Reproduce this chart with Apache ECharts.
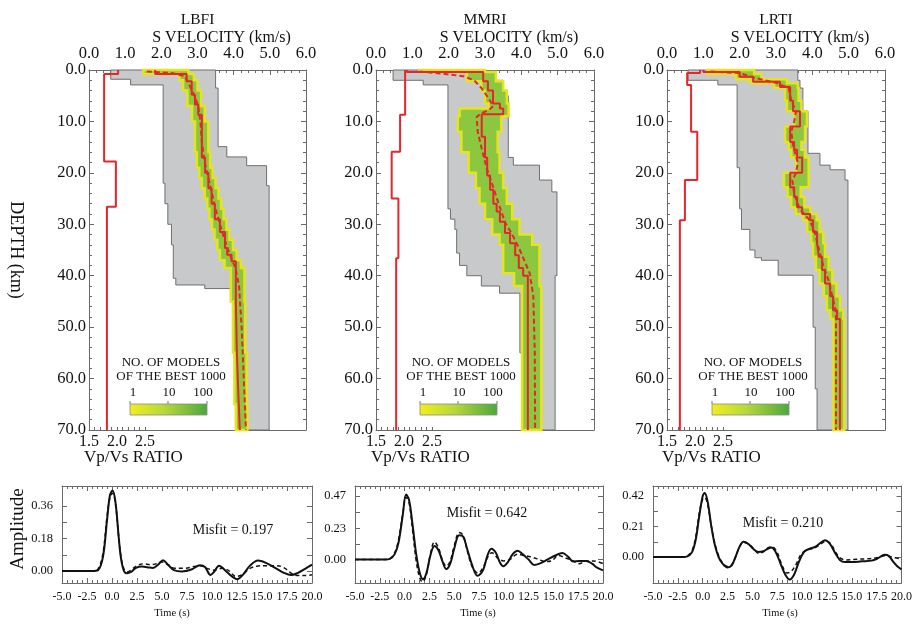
<!DOCTYPE html>
<html>
<head>
<meta charset="utf-8">
<script src="https://cdn.jsdelivr.net/npm/echarts@6/dist/echarts.min.js"></script>
<style>
html, body { margin: 0; background: #fff; }
#main { width: 915px; height: 626px; }
</style>
</head>
<body>
<div id="main"></div>
<script>
// ---- data -------------------------------------------------------------
var stations = ['LBFI', 'MMRI', 'LRTI'];
var misfits = ['0.197', '0.642', '0.210'];
var ratioLabels = [1.5, 2.0, 2.5];
var ratioTicks = [1.5, 1.6, 1.7, 1.8, 1.9, 2.0, 2.1, 2.2, 2.3, 2.4, 2.5];
var ampLabels = [[0, 0.18, 0.36], [0, 0.23, 0.47], [0, 0.21, 0.42]];
var ampTicks = [[0, 0.09, 0.18, 0.27, 0.36], [0, 0.115, 0.23, 0.35, 0.47], [0, 0.105, 0.21, 0.315, 0.42]];
var ampRange = [[-0.066, 0.47], [-0.173, 0.543], [-0.179, 0.489]];
var colorbarLabels = ['1', '10', '100'];

// layers: [top depth km, S velocity km/s]
var lbfiBest = [[0,1.83],[0.8,2.7],[2.2,2.84],[4.8,2.93],[6.7,3.02],[8.7,3.12],[17,3.21],[20,3.3],[23,3.39],[26,3.48],[29,3.62],[31.5,3.76],[34.6,3.82],[35.9,3.94],[37.2,4.06],[45,4.09],[55,4.13],[63,4.17]];
var mmriBest = [[0,0.85],[0.4,2.95],[2.2,3.08],[4,3.22],[6.5,3.41],[7.5,3.5],[8.6,2.91],[13,3.0],[17,3.06],[20.5,3.14],[23.3,3.23],[26,3.32],[27.5,3.41],[29.5,3.55],[31.7,3.69],[33.7,3.83],[36,3.93],[38.5,4.05],[40,4.18]];
var lrtiBest = [[0,1.0],[0.4,2.0],[1.3,2.37],[2.3,3.11],[3.3,3.39],[6,3.47],[8,3.66],[11,3.39],[14,3.5],[15.5,3.58],[17,3.72],[20,3.39],[22.8,3.5],[24.7,3.58],[26.7,3.72],[28,3.94],[29.2,4.02],[31.5,4.13],[33.7,4.18],[36.3,4.27],[38.9,4.35],[41.5,4.49],[44,4.57],[46.7,4.68],[48.4,4.76]];

// mean model points: [S velocity, depth]
var lbfiMean = [[1.6,0.3],[2.3,0.6],[2.65,1.2],[2.78,3],[2.92,5],[3.02,7],[3.08,10],[3.12,14],[3.2,18],[3.3,21],[3.4,24],[3.5,27],[3.62,30],[3.75,33],[3.9,36],[4.05,38.5],[4.15,42],[4.22,50],[4.28,60],[4.34,70]];
var mmriMean = [[1.2,0.3],[1.8,0.7],[2.4,1.2],[2.7,2],[2.9,3.5],[3.05,5],[3.23,7],[3.1,7.8],[2.91,8.4],[2.77,9.1],[2.8,12],[2.91,15.3],[3.05,19.2],[3.18,21.8],[3.36,25.7],[3.55,29.6],[3.75,32],[3.96,35],[4.23,39.5],[4.33,44],[4.37,55],[4.38,70]];
var lrtiMean = [[1.2,0.3],[2.0,0.6],[2.4,1.5],[3.0,2.5],[3.35,3.5],[3.42,6],[3.55,8],[3.5,10],[3.42,12],[3.48,15],[3.6,18],[3.55,20],[3.45,21.5],[3.5,24],[3.65,27],[3.9,29],[4.05,31],[4.15,34],[4.3,38],[4.45,41],[4.55,44],[4.65,47],[4.65,70]];

// best-1000 band layers: [top depth, low velocity, high velocity]
var lbfiBand = [[0,1.5,2.75],[0.8,2.5,2.9],[2,2.6,3.0],[4,2.72,3.1],[7,2.85,3.2],[10,2.93,3.3],[16,2.98,3.35],[19,3.05,3.42],[21,3.12,3.5],[23,3.2,3.58],[25,3.27,3.65],[27,3.33,3.72],[29,3.4,3.8],[31,3.47,3.88],[33,3.55,3.98],[35,3.62,4.08],[37,3.75,4.2],[38.5,3.92,4.3],[45,3.98,4.32],[55,4.02,4.36],[65,4.06,4.38]];
var mmriBand = [[0,1.2,3.0],[0.4,2.5,3.3],[2.2,2.9,3.5],[4,3.0,3.6],[6.5,3.1,3.65],[7.5,2.3,3.65],[9,2.25,3.45],[12,2.35,3.35],[16,2.55,3.4],[20,2.75,3.5],[23,2.85,3.6],[26,3.0,3.75],[29,3.2,3.95],[32,3.4,4.3],[34,3.5,4.5],[39.5,3.8,4.5],[42,4.02,4.55]];
var lrtiBand = [[0,1.1,2.4],[0.8,1.9,2.6],[1.8,2.3,3.3],[2.6,2.95,3.6],[3.5,3.25,3.62],[6,3.3,3.7],[8,3.5,3.85],[11,3.25,3.8],[14,3.35,3.7],[15.5,3.42,3.8],[17,3.55,3.9],[20,3.22,3.9],[22.8,3.32,3.68],[24.7,3.42,3.78],[26.7,3.55,3.95],[28,3.75,4.12],[29.2,3.86,4.2],[31.5,3.97,4.3],[33.7,4.02,4.35],[36.3,4.1,4.45],[38.9,4.2,4.55],[41.5,4.32,4.66],[44,4.4,4.76],[46.7,4.5,4.85],[48.4,4.58,4.88]];

// envelope of all models: [top depth, velocity]
var lbfiMin = [[0,0.6],[1.8,1.15],[2.9,2.05],[22,2.1],[26,2.18],[30,2.28],[34,2.33],[40.5,2.4],[41.8,3.2],[42.5,3.99],[52,4.05],[62,4.1],[67,4.15]];
var lbfiMax = [[0,3.5],[3.5,3.57],[14.9,3.81],[16.9,4.36],[18.6,4.91],[22.5,4.98]];
var mmriMin = [[0,0.47],[2,1.3],[2.9,1.98],[27,2.05],[29,2.17],[31,2.22],[35.6,2.3],[38,2.5],[40,2.9],[42,3.4],[43.4,3.96],[55,4.05],[65,4.12]];
var mmriMax = [[0,3.0],[2,3.5],[5,3.64],[17,3.78],[18.5,4.5],[21.4,4.84],[23.7,4.98],[40,4.93]];
var lrtiMin = [[0,0.58],[2,1.4],[2.9,1.93],[19,2.0],[27,2.05],[31,2.28],[35,2.42],[36.5,2.6],[37,3.06],[39.9,4.02],[50,4.08],[62,4.13]];
var lrtiMax = [[0,3.6],[2,3.66],[3.5,3.74],[8,3.88],[16.2,4.21],[18.5,4.49],[19.4,4.9],[21.4,4.98]];

// Vp/Vs layers: [top depth, ratio]
var lbfiRatio = [[0,2.02],[0.8,1.77],[17.8,1.98],[26.6,1.82]];
var mmriRatio = [[0,2.02],[8.7,1.93],[15.9,1.78],[25,1.9],[36.6,1.86]];
var lrtiRatio = [[0,2.09],[0.6,1.86],[2.9,1.93],[12,2.04],[21.4,1.82],[29.2,1.73]];

// receiver functions: [time s, amplitude]
var lbfiObs = [[-5,0],[-2,0],[-1.4,0.005],[-0.9,0.08],[-0.5,0.28],[-0.2,0.42],[0.05,0.445],[0.35,0.38],[0.65,0.2],[0.9,0.07],[1.2,0.0],[1.5,-0.012],[1.9,-0.005],[2.4,0.018],[3.0,0.025],[3.6,0.02],[4.1,0.017],[4.6,0.035],[5.1,0.06],[5.6,0.035],[6.2,0.005],[7.0,-0.002],[8.0,0.01],[8.8,0.032],[9.3,0.022],[9.85,-0.022],[10.2,-0.005],[10.7,0.03],[11.3,0.005],[12.0,-0.03],[12.5,-0.045],[13.1,-0.02],[13.8,0.03],[14.6,0.058],[15.4,0.045],[16.4,0.015],[17.2,-0.01],[17.9,-0.022],[18.6,-0.01],[19.3,0.012],[20,0.035]];
var lbfiSyn = [[-5,0],[-2,0],[-1.4,0.01],[-0.9,0.1],[-0.5,0.3],[-0.2,0.41],[0.05,0.43],[0.35,0.37],[0.65,0.2],[0.9,0.08],[1.2,0.01],[1.5,-0.005],[2.0,0.01],[2.5,0.03],[3.2,0.04],[3.8,0.035],[4.4,0.04],[5.0,0.05],[5.6,0.035],[6.3,0.015],[7.2,0.015],[8.2,0.025],[8.8,0.03],[9.5,0.015],[10.2,0.005],[11.0,0.015],[11.6,0.005],[12.4,-0.03],[13.0,-0.02],[13.8,0.015],[14.6,0.028],[15.5,0.03],[16.5,0.03],[17.3,0.015],[18.0,-0.015],[18.6,-0.025],[19.3,-0.025],[20,-0.02]];
var mmriObs = [[-5,0],[-2,0],[-1.5,0.005],[-1.0,0.04],[-0.6,0.13],[-0.2,0.32],[0.15,0.48],[0.45,0.44],[0.8,0.26],[1.15,0.05],[1.5,-0.09],[1.85,-0.145],[2.2,-0.1],[2.6,0.03],[3.0,0.1],[3.4,0.07],[3.8,-0.01],[4.2,-0.07],[4.6,-0.03],[5.0,0.08],[5.5,0.18],[5.9,0.17],[6.3,0.08],[6.8,-0.04],[7.35,-0.12],[7.9,-0.08],[8.35,0.03],[8.75,0.08],[9.2,0.05],[9.6,-0.02],[9.95,-0.05],[10.4,-0.02],[10.9,0.04],[11.4,0.065],[11.9,0.04],[12.5,0.0],[13.05,-0.04],[13.6,-0.03],[14.4,0.0],[15.2,0.03],[15.9,0.048],[16.5,0.02],[17.0,-0.015],[17.6,-0.01],[18.3,-0.01],[18.9,-0.03],[19.4,-0.06],[20,-0.08]];
var mmriSyn = [[-5,0],[-2,0],[-1.5,0.005],[-1.0,0.05],[-0.6,0.15],[-0.2,0.33],[0.15,0.46],[0.45,0.42],[0.8,0.22],[1.15,0.0],[1.5,-0.13],[1.8,-0.165],[2.2,-0.11],[2.6,0.04],[3.0,0.13],[3.4,0.09],[3.8,0.0],[4.2,-0.05],[4.6,-0.01],[5.0,0.1],[5.5,0.2],[5.9,0.18],[6.3,0.07],[6.8,-0.05],[7.4,-0.1],[7.9,-0.06],[8.4,0.02],[8.8,0.05],[9.4,0.01],[10.0,-0.01],[10.6,0.0],[11.4,0.04],[12.0,0.03],[12.7,0.02],[13.4,0.005],[14.2,-0.015],[14.8,-0.01],[15.5,0.03],[16.3,0.01],[17.0,-0.01],[17.6,-0.03],[18.3,-0.01],[19.0,-0.01],[20,-0.03]];
var lrtiObs = [[-5,0],[-2,0],[-1.6,0.003],[-1.1,0.03],[-0.7,0.12],[-0.35,0.28],[0.0,0.42],[0.2,0.44],[0.5,0.38],[0.85,0.22],[1.2,0.09],[1.6,0.0],[2.0,-0.045],[2.5,-0.072],[2.9,-0.06],[3.3,0.0],[3.7,0.07],[4.1,0.105],[4.6,0.09],[5.1,0.055],[5.6,0.035],[6.1,0.04],[6.5,0.055],[6.9,0.066],[7.3,0.04],[7.8,-0.04],[8.3,-0.12],[8.75,-0.155],[9.2,-0.12],[9.7,-0.03],[10.2,0.035],[10.7,0.055],[11.3,0.07],[11.9,0.1],[12.3,0.115],[12.8,0.09],[13.3,0.03],[13.8,-0.02],[14.3,-0.035],[15.0,-0.035],[16.0,-0.03],[17.0,-0.025],[17.6,-0.01],[18.3,0.015],[18.7,0.008],[19.2,-0.035],[19.6,-0.065],[20,-0.085]];
var lrtiSyn = [[-5,0],[-2,0],[-1.6,0.005],[-1.1,0.04],[-0.7,0.14],[-0.35,0.3],[0.0,0.4],[0.2,0.41],[0.5,0.36],[0.85,0.22],[1.2,0.1],[1.6,0.01],[2.0,-0.04],[2.5,-0.065],[2.9,-0.055],[3.3,0.0],[3.7,0.07],[4.1,0.1],[4.6,0.09],[5.1,0.06],[5.6,0.025],[6.1,0.035],[6.6,0.065],[7.0,0.07],[7.5,0.03],[8.0,-0.06],[8.5,-0.11],[8.9,-0.1],[9.4,-0.05],[9.9,0.02],[10.5,0.05],[11.2,0.06],[11.9,0.09],[12.4,0.11],[12.9,0.09],[13.4,0.03],[13.9,-0.01],[14.5,-0.02],[15.5,-0.015],[16.5,-0.012],[17.5,-0.005],[18.3,0.008],[19.0,0.0],[20,-0.015]];

var bestModels = [lbfiBest, mmriBest, lrtiBest];
var meanModels = [lbfiMean, mmriMean, lrtiMean];
var bands = [lbfiBand, mmriBand, lrtiBand];
var minEnv = [lbfiMin, mmriMin, lrtiMin];
var maxEnv = [lbfiMax, mmriMax, lrtiMax];
var ratios = [lbfiRatio, mmriRatio, lrtiRatio];
var observed = [lbfiObs, mmriObs, lrtiObs];
var synthetic = [lbfiSyn, mmriSyn, lrtiSyn];

// ---- layout -----------------------------------------------------------
var FONT = 'Liberation Serif';
var RED = '#e5262d';
var AXIS = '#6a6a6a';
var topLeft = [89, 376, 667];
var topWidth = [217, 218, 218];
var botLeft = [62, 355, 653];
var botWidth = [250, 248, 250];
var barLeft = [130, 420, 712];
var misfitPos = [[233, 530], [487, 513], [783, 523]];
var timeTitleX = [172, 478, 780];

// layer list -> step line points [value, depth]
function steps(layers, col) {
  var pts = [];
  for (var i = 0; i < layers.length; i++) {
    var bottom = i + 1 < layers.length ? layers[i + 1][0] : 70;
    pts.push([layers[i][col], layers[i][0]]);
    pts.push([layers[i][col], bottom]);
  }
  return pts;
}

function polygonSeries(xi, yi, pts, style, z) {
  return {
    type: 'custom', xAxisIndex: xi, yAxisIndex: yi, silent: true, z: z,
    data: [[0, 0]],
    renderItem: function (params, api) {
      return { type: 'polygon', shape: { points: pts.map(function (p) { return api.coord(p); }) }, style: style };
    }
  };
}

function lbl(size) {
  return { fontFamily: FONT, fontSize: size, color: '#111' };
}

function txt(x, y, text, size, align, rot) {
  return {
    type: 'text', x: x, y: y, rotation: rot || 0,
    style: { text: text, font: size + 'px "' + FONT + '"', fill: '#111', align: align, textAlign: align, verticalAlign: 'middle', textVerticalAlign: 'middle' }
  };
}

var option = { animation: false, backgroundColor: '#fff', grid: [], xAxis: [], yAxis: [], series: [], graphic: [] };

var lineStyle = { show: true, onZero: false, lineStyle: { color: AXIS } };
var tickStyle = { show: true, inside: true, length: 5, lineStyle: { color: AXIS } };
var minorStyle = { show: true, splitNumber: 5, length: 3, lineStyle: { color: AXIS } };

// velocity-depth panels
for (var i = 0; i < 3; i++) {
  option.grid.push({ left: topLeft[i], top: 70, width: topWidth[i], height: 360 });
  var vmaxRatio = 1.5 + topWidth[i] / 56;
  option.xAxis.push({
    gridIndex: i, type: 'value', position: 'top', min: 0, max: 6, interval: 1,
    axisLine: lineStyle, axisTick: tickStyle, minorTick: minorStyle,
    splitLine: { show: false }, minorSplitLine: { show: false },
    axisLabel: Object.assign(lbl(16.5), { margin: 8, showMinLabel: true, showMaxLabel: true, formatter: function (v) { return v.toFixed(1); } })
  });
  option.xAxis.push({
    gridIndex: i, type: 'value', position: 'bottom', min: 1.5, max: vmaxRatio,
    axisLine: lineStyle,
    axisTick: { show: true, inside: true, length: 3, customValues: ratioTicks, lineStyle: { color: AXIS } },
    splitLine: { show: false },
    axisLabel: Object.assign(lbl(16), { margin: 4, customValues: ratioLabels, formatter: function (v) { return v.toFixed(1); } })
  });
  option.yAxis.push({
    gridIndex: i, type: 'value', position: 'left', inverse: true, min: 0, max: 70, interval: 10,
    axisLine: lineStyle, axisTick: tickStyle, minorTick: minorStyle,
    splitLine: { show: false }, minorSplitLine: { show: false },
    axisLabel: Object.assign(lbl(16.5), { margin: 3, showMinLabel: true, showMaxLabel: true, formatter: function (v) { return v.toFixed(1); } })
  });
  option.yAxis.push({
    gridIndex: i, type: 'value', position: 'right', inverse: true, min: 0, max: 70, interval: 10,
    axisLine: lineStyle, axisTick: tickStyle, minorTick: minorStyle,
    splitLine: { show: false }, axisLabel: { show: false }
  });

  var envelope = steps(maxEnv[i], 1).concat(steps(minEnv[i], 1).reverse());
  option.series.push(polygonSeries(2 * i, 2 * i, envelope, { fill: '#c8c9cb', stroke: '#6f6f6f', lineWidth: 1 }, 1));
  var band = steps(bands[i], 2).concat(steps(bands[i], 1).reverse());
  option.series.push(polygonSeries(2 * i, 2 * i, band, { fill: '#8dc73f', stroke: '#e6e41e', lineWidth: 2.5 }, 2));
  option.series.push({
    type: 'line', xAxisIndex: 2 * i, yAxisIndex: 2 * i, data: meanModels[i], symbol: 'none', silent: true, z: 3,
    lineStyle: { color: RED, width: 2, type: [5, 3] }
  });
  option.series.push({
    type: 'line', xAxisIndex: 2 * i, yAxisIndex: 2 * i, data: steps(bestModels[i], 1), symbol: 'none', silent: true, z: 4,
    lineStyle: { color: RED, width: 2 }
  });
  option.series.push({
    type: 'line', xAxisIndex: 2 * i + 1, yAxisIndex: 2 * i, data: steps(ratios[i], 1), symbol: 'none', silent: true, z: 4,
    lineStyle: { color: RED, width: 2 }
  });

  var cx = topLeft[i] + topWidth[i] / 2;
  option.graphic.push(txt(cx, 20, stations[i], 15.5, 'center'));
  option.graphic.push(txt(cx + 24, 38, 'S VELOCITY (km/s)', 16, 'center'));
  option.graphic.push(txt(topLeft[i] - 5, 458, 'Vp/Vs RATIO', 17, 'left'));

  // colour bar legend
  var bx = barLeft[i];
  option.graphic.push(txt(bx + 41, 363, 'NO. OF MODELS', 13, 'center'));
  option.graphic.push(txt(bx + 41, 377, 'OF THE BEST 1000', 13, 'center'));
  var offs = [3, 39, 73];
  var tickX = [0, 38, 77];
  for (var k = 0; k < 3; k++) {
    option.graphic.push(txt(bx + offs[k], 393, colorbarLabels[k], 13, 'center'));
    option.graphic.push({ type: 'line', shape: { x1: bx + tickX[k], y1: 401, x2: bx + tickX[k], y2: 404 }, style: { stroke: '#777', lineWidth: 1 } });
  }
  option.graphic.push({
    type: 'rect', shape: { x: bx, y: 404, width: 77, height: 11 },
    style: {
      fill: { type: 'linear', x: 0, y: 0, x2: 1, y2: 0, colorStops: [{ offset: 0, color: '#f2ee1c' }, { offset: 0.45, color: '#b6d83a' }, { offset: 1, color: '#4aa83c' }] },
      stroke: '#8a8a8a', lineWidth: 0.8
    }
  });
}

// receiver function panels
for (var j = 0; j < 3; j++) {
  var g = 3 + j;
  option.grid.push({ left: botLeft[j], top: 486, width: botWidth[j], height: 97 });
  var timeAxis = {
    gridIndex: g, type: 'value', min: -5, max: 20, interval: 2.5,
    axisLine: lineStyle, axisTick: tickStyle, minorTick: minorStyle,
    splitLine: { show: false }, minorSplitLine: { show: false }
  };
  option.xAxis.push(Object.assign({}, timeAxis, {
    position: 'bottom',
    axisLabel: Object.assign(lbl(12), { margin: 8, showMinLabel: true, showMaxLabel: true, formatter: function (v) { return v.toFixed(1); } })
  }));
  option.xAxis.push(Object.assign({}, timeAxis, { position: 'top', axisLabel: { show: false } }));
  var ampAxis = {
    gridIndex: g, type: 'value', min: ampRange[j][0], max: ampRange[j][1],
    axisLine: lineStyle,
    axisTick: { show: true, inside: true, length: 5, customValues: ampTicks[j], lineStyle: { color: AXIS } },
    splitLine: { show: false }
  };
  option.yAxis.push(Object.assign({}, ampAxis, {
    position: 'left',
    axisLabel: Object.assign(lbl(12.5), { margin: 9, customValues: ampLabels[j], formatter: function (v) { return v.toFixed(2); } })
  }));
  option.yAxis.push(Object.assign({}, ampAxis, { position: 'right', axisLabel: { show: false } }));

  option.series.push({
    type: 'line', xAxisIndex: 6 + 2 * j, yAxisIndex: 6 + 2 * j, data: synthetic[j], symbol: 'none', smooth: 0.35, silent: true,
    lineStyle: { color: '#111', width: 1.5, type: [4, 3] }
  });
  option.series.push({
    type: 'line', xAxisIndex: 6 + 2 * j, yAxisIndex: 6 + 2 * j, data: observed[j], symbol: 'none', smooth: 0.35, silent: true,
    lineStyle: { color: '#111', width: 2 }
  });

  option.graphic.push(txt(misfitPos[j][0], misfitPos[j][1], 'Misfit = ' + misfits[j], 14, 'center'));
  option.graphic.push(txt(timeTitleX[j], 613, 'Time (s)', 10.5, 'center'));
}

option.graphic.push(txt(16, 250, 'DEPTH (km)', 18, 'center', -Math.PI / 2));
option.graphic.push(txt(18, 529, 'Amplitude', 19, 'center', Math.PI / 2));

var chart = echarts.init(document.getElementById('main'), null, { renderer: 'canvas' });
chart.setOption(option);
</script>
</body>
</html>
